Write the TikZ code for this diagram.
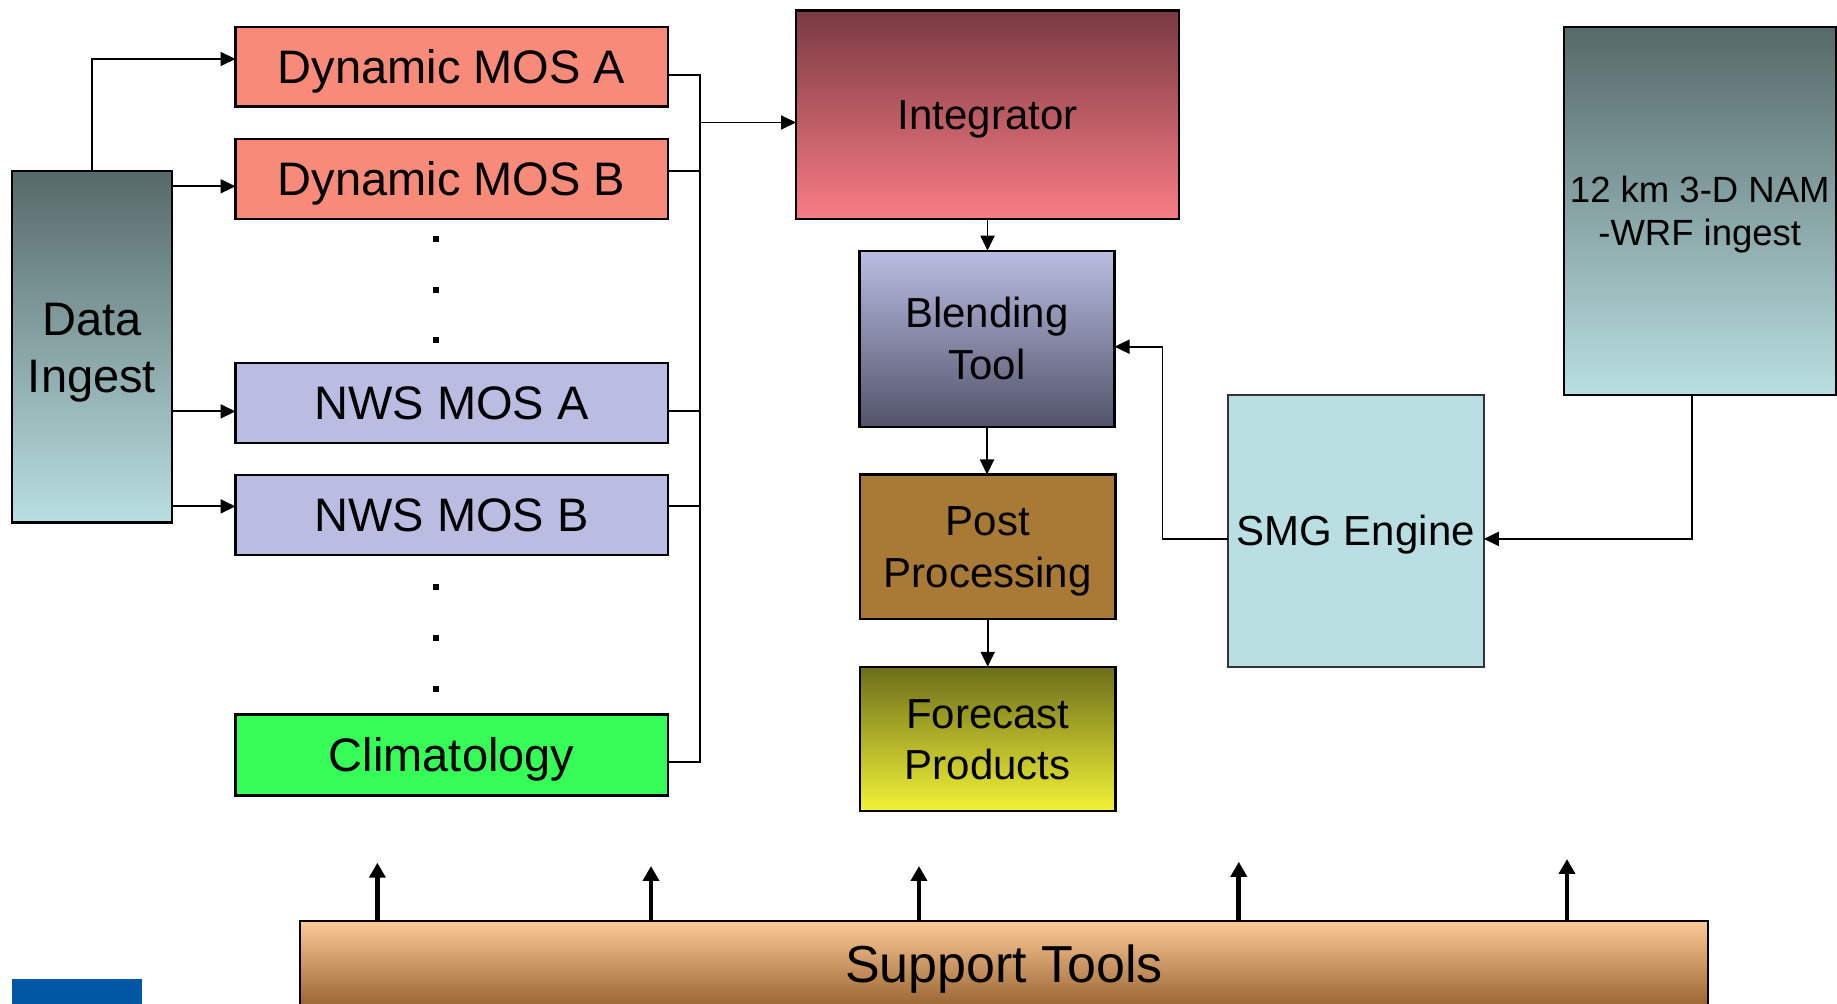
\documentclass[tikz,border=0pt]{standalone}
\usepackage{fontspec}
\setmainfont{Liberation Sans}
\usetikzlibrary{arrows.meta}
\definecolor{dmCol}{HTML}{F78A78}
\definecolor{nwsCol}{HTML}{BABCE2}
\definecolor{climCol}{HTML}{36FC58}
\definecolor{intTop}{HTML}{7A3A42}
\definecolor{intBot}{HTML}{F97C85}
\definecolor{blTop}{HTML}{BABCE2}
\definecolor{blBot}{HTML}{52536A}
\definecolor{postCol}{HTML}{A97A36}
\definecolor{fcTop}{HTML}{6C6E1B}
\definecolor{fcBot}{HTML}{F2F335}
\definecolor{smgCol}{HTML}{B9DFE2}
\definecolor{tealTop}{HTML}{576969}
\definecolor{tealBot}{HTML}{B9DFE1}
\definecolor{supTop}{HTML}{FCCA98}
\definecolor{supMid}{HTML}{D6A674}
\definecolor{supBot}{HTML}{9A6532}
\definecolor{blueC}{HTML}{0057A3}
\newcommand\FBig{\fontsize{23.5pt}{28.5pt}\selectfont}
\newcommand\FMid{\fontsize{21pt}{25.85pt}\selectfont}
\newcommand\FNam{\fontsize{18.25pt}{21.85pt}\selectfont}
\newcommand\FSup{\fontsize{26pt}{31pt}\selectfont}
\newcommand\twol[2]{\begin{tabular}[t]{@{}c@{}}#1\\#2\end{tabular}}
\begin{document}
\begin{tikzpicture}[x=0.5pt,y=-0.5pt,
  bx/.style={draw=black,line width=1.1pt,inner sep=0pt,outer sep=0pt,rectangle},
  bigone/.style={font=\FBig,text height=16.8pt,text depth=0pt},
  bigtwo/.style={font=\FBig,text height=16.8pt,text depth=28.5pt},
  midone/.style={font=\FMid,text height=15.04pt,text depth=0pt},
  midtwo/.style={font=\FMid,text height=15.04pt,text depth=25.85pt},
  conn/.style={line width=0.95pt,draw=black},
  arr/.style={conn,-{Triangle[length=7.5pt,width=7pt]}},
  uparr/.style={line width=2.4pt,draw=black,-{Triangle[length=7.5pt,width=8pt]}},
  dotsq/.style={fill=black,rectangle,inner sep=0pt,minimum size=3.4pt}]
\useasboundingbox (0,0) rectangle (1837,1004);
\clip (0,0) rectangle (1837,1004);

% left column
\node[bx,bigtwo,minimum width=80.25pt,minimum height=175.75pt,top color=tealTop,bottom color=tealBot] (di) at (92,346.8) {\twol{Data}{Ingest}};
\node[bx,bigone,fill=dmCol,minimum width=216.15pt,minimum height=39.8pt] (dmA) at (451.65,66.8) {Dynamic MOS A};
\node[bx,bigone,fill=dmCol,minimum width=216.15pt,minimum height=40pt] (dmB) at (451.65,179) {Dynamic MOS B};
\node[bx,bigone,fill=nwsCol,minimum width=216.15pt,minimum height=40pt] (nwsA) at (451.65,403) {NWS MOS A};
\node[bx,bigone,fill=nwsCol,minimum width=216.15pt,minimum height=40pt] (nwsB) at (451.65,515) {NWS MOS B};
\node[bx,bigone,fill=climCol,minimum width=216.15pt,minimum height=40.5pt] (clim) at (451.65,755) {Climatology};

\node[dotsq] (dot1) at (436,239) {};
\node[dotsq] (dot2) at (436,290) {};
\node[dotsq] (dot3) at (436,340) {};
\node[dotsq] (dot4) at (436,587) {};
\node[dotsq] (dot5) at (436,638) {};
\node[dotsq] (dot6) at (436,689) {};

% middle column
\node[bx,midone,minimum width=191.5pt,minimum height=104.2pt,top color=intTop,bottom color=intBot] (integ) at (987.5,114.8) {Integrator};
\node[bx,midtwo,minimum width=127.5pt,minimum height=88pt,top color=blTop,bottom color=blBot] (blend) at (987,338.7) {\twol{Blending}{Tool}};
\node[bx,midtwo,fill=postCol,minimum width=127.75pt,minimum height=72.25pt] (post) at (987.7,546.75) {\twol{Post}{Processing}};
\node[bx,midtwo,minimum width=127.75pt,minimum height=72.1pt,top color=fcTop,bottom color=fcBot] (fc) at (987.7,738.9) {\twol{Forecast}{Products}};

% right
\node[bx,midone,draw=black!80,fill=smgCol,minimum width=128.1pt,minimum height=135.9pt] (smg) at (1355.7,530.9) {SMG Engine};
\node[bx,font=\FNam,text height=13.07pt,text depth=21.85pt,minimum width=136pt,minimum height=184.1pt,top color=tealTop,bottom color=tealBot] (nam) at (1699.75,210.9) {\twol{12 km 3-D NAM}{-WRF ingest}};

% support tools
\node[bx,font=\FSup,text height=18.6pt,text depth=0pt,minimum width=704pt,minimum height=42.5pt,top color=supTop,middle color=supMid,bottom color=supBot] (sup) at (1004,963.5) {Support Tools};
\fill[blueC] (11.7,979) rectangle (141.6,1010);

% coordinates
\coordinate (bus) at (700,0);
\coordinate (jog) at (1162.5,0);
\coordinate (inA) at ([yshift=3.9pt]dmA.west);
\coordinate (inB) at ([yshift=-3.65pt]dmB.west);
\coordinate (inNA) at ([yshift=-4.2pt]nwsA.west);
\coordinate (inNB) at ([yshift=4.3pt]nwsB.west);
\coordinate (outA) at ([yshift=-4.1pt]dmA.east);
\coordinate (outB) at ([yshift=4pt]dmB.east);
\coordinate (outNA) at ([yshift=-4.2pt]nwsA.east);
\coordinate (outNB) at ([yshift=4.3pt]nwsB.east);
\coordinate (outC) at ([yshift=-3.5pt]clim.east);
\coordinate (inI) at ([yshift=-3.85pt]integ.west);
\coordinate (smgOut) at ([yshift=-4.05pt]smg.west);
\coordinate (inBl) at ([yshift=-4pt]blend.east);
\coordinate (namOut) at ([xshift=-3.7pt]nam.south);
\coordinate (inS) at ([yshift=-4pt]smg.east);

% data ingest fan-out
\draw[arr] (di.north) |- (inA);
\draw[arr] (inB -| di.east) -- (inB);
\draw[arr] (inNA -| di.east) -- (inNA);
\draw[arr] (inNB -| di.east) -- (inNB);

% bus to integrator
\draw[conn] (outA) -| (bus |- outC) -- (outC);
\draw[conn] (outB) -- (outB -| bus);
\draw[conn] (outNA) -- (outNA -| bus);
\draw[conn] (outNB) -- (outNB -| bus);
\draw[arr] (inI -| bus) -- (inI);

% chain
\draw[arr] (integ.south) -- (integ.south |- blend.north);
\draw[arr] (blend.south) -- (blend.south |- post.north);
\draw[arr] (post.south) -- (post.south |- fc.north);

% SMG
\draw[arr] (smgOut) -| (jog |- inBl) -- (inBl);
\draw[arr] (namOut) |- (inS);

% support arrows
\coordinate (t1) at (377.4,862.7);
\coordinate (t2) at (651,866);
\coordinate (t3) at (919,866);
\coordinate (t4) at (1238.8,861.8);
\coordinate (t5) at (1567,859);
\draw[uparr] (t1 |- sup.north) -- (t1);
\draw[uparr] (t2 |- sup.north) -- (t2);
\draw[uparr] (t3 |- sup.north) -- (t3);
\draw[uparr] (t4 |- sup.north) -- (t4);
\draw[uparr] (t5 |- sup.north) -- (t5);
\end{tikzpicture}
\end{document}
